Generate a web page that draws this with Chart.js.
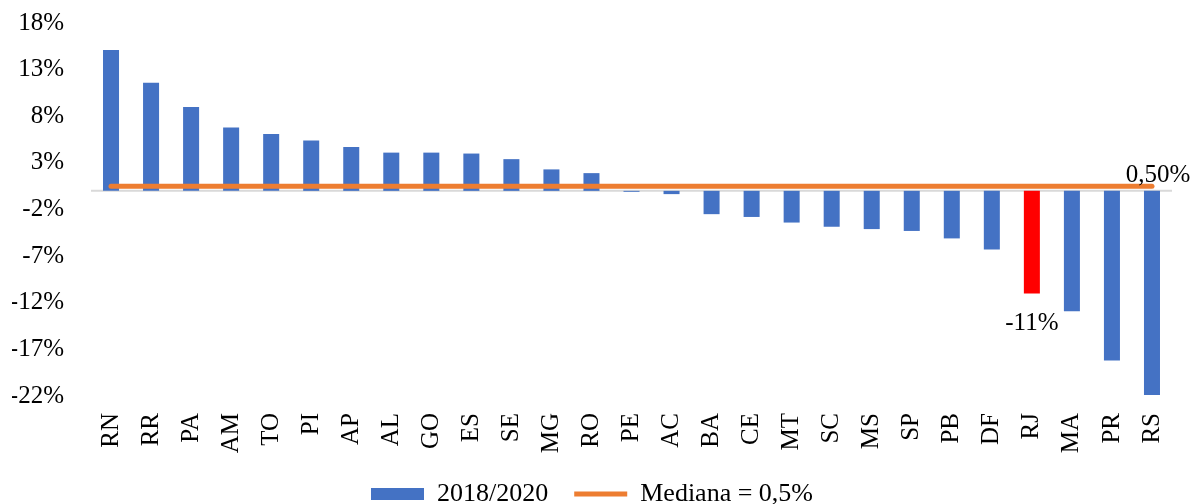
<!DOCTYPE html>
<html>
<head>
<meta charset="utf-8">
<script src="https://cdn.jsdelivr.net/npm/chart.js@4.4.1/dist/chart.umd.min.js"></script>
<style>
  html, body { margin: 0; padding: 0; background: #fff; }
  #wrap { position: relative; width: 1192px; height: 504px; }
</style>
</head>
<body>
<div id="wrap"><canvas id="grafico"></canvas></div>
<script>
// dados (variacao 2018/2020, %)
const ESTADOS = ["RN", "RR", "PA", "AM", "TO", "PI", "AP", "AL", "GO", "ES", "SE", "MG", "RO", "PE",
  "AC", "BA", "CE", "MT", "SC", "MS", "SP", "PB", "DF", "RJ", "MA", "PR", "RS"];
const VARIACAO = [15.1, 11.6, 9.0, 6.8, 6.1, 5.4, 4.7, 4.1, 4.1, 4.0, 3.4, 2.3, 1.9, -0.1,
  -0.35, -2.5, -2.8, -3.4, -3.85, -4.1, -4.3, -5.1, -6.3, -11.0, -12.9, -18.2, -21.9];
const MEDIANA = ESTADOS.map(() => 0.5);
const Y_TICKS = [-22, -17, -12, -7, -2, 3, 8, 13, 18];
const DESTAQUE = "RJ";

const AZUL = "#4472C4";
const VERMELHO = "#FF0000";
const LARANJA = "#ED7D31";
const FONTE = "'Liberation Serif', 'Times New Roman', serif";

const fmtPct = (v, casas) => v.toFixed(casas).replace(".", ",") + "%";

// linha cinza no zero
const linhaZero = {
  id: "linhaZero",
  beforeDatasetsDraw(chart) {
    const { ctx, chartArea } = chart;
    const y = chart.scales.y.getPixelForValue(0);
    ctx.save();
    ctx.strokeStyle = "#D9D9D9";
    ctx.lineWidth = 2;
    ctx.beginPath();
    ctx.moveTo(chartArea.left, y);
    ctx.lineTo(chartArea.right, y);
    ctx.stroke();
    ctx.restore();
  },
};

// rotulos: RJ e fim da linha da mediana
const rotulos = {
  id: "rotulos",
  afterDatasetsDraw(chart) {
    const { ctx } = chart;
    ctx.save();
    ctx.fillStyle = "#000";
    ctx.font = "25px " + FONTE;
    ctx.textAlign = "center";
    ctx.textBaseline = "middle";

    const i = ESTADOS.indexOf(DESTAQUE);
    const barra = chart.getDatasetMeta(0).data[i];
    ctx.fillText(Math.round(VARIACAO[i]) + "%", barra.x, barra.y + 30);

    const pts = chart.getDatasetMeta(1).data;
    const ult = pts[pts.length - 1];
    ctx.fillText(fmtPct(MEDIANA[MEDIANA.length - 1], 2), ult.x + 6, ult.y - 11);
    ctx.restore();
  },
};

new Chart(document.getElementById("grafico"), {
  type: "bar",
  data: {
    labels: ESTADOS,
    datasets: [
      {
        type: "bar", label: "2018/2020", data: VARIACAO, order: 1,
        backgroundColor: ESTADOS.map((e) => (e === DESTAQUE ? VERMELHO : AZUL)),
        borderWidth: 0, barPercentage: 0.4, categoryPercentage: 1.0, pointStyle: "rect",
      },
      {
        type: "line", label: "Mediana = 0,5%", data: MEDIANA, order: 0,
        borderColor: LARANJA, backgroundColor: LARANJA, borderWidth: 5, borderCapStyle: "round",
        pointRadius: 0, pointStyle: "line", fill: false,
      },
    ],
  },
  options: {
    responsive: true, maintainAspectRatio: false, animation: false,
    layout: { padding: { left: 12, right: 20, top: 23, bottom: -13 } },
    plugins: {
      legend: {
        position: "bottom",
        labels: {
          usePointStyle: true, pointStyleWidth: 53, boxHeight: 12, padding: 26,
          color: "#000", font: { family: FONTE, size: 26 },
          sort: (a, b) => a.datasetIndex - b.datasetIndex,
        },
      },
      tooltip: { enabled: false },
    },
    scales: {
      x: {
        grid: { display: false, drawTicks: false }, border: { display: false },
        ticks: { color: "#000", font: { family: FONTE, size: 25 }, minRotation: 90, maxRotation: 90, padding: 17, autoSkip: false },
        afterFit: (s) => { s.paddingLeft = 0; s.paddingRight = 0; s.height = 59; },
      },
      y: {
        min: -22, max: 18,
        afterBuildTicks: (s) => { s.ticks = Y_TICKS.map((v) => ({ value: v })); },
        grid: { display: false, drawTicks: false }, border: { display: false },
        ticks: { color: "#000", font: { family: FONTE, size: 25 }, padding: 27, callback: (v) => v + "%" },
        afterFit: (s) => { s.paddingTop = 0; s.paddingBottom = 0; s.width = 79; },
      },
    },
  },
  plugins: [linhaZero, rotulos],
});
</script>
</body>
</html>
